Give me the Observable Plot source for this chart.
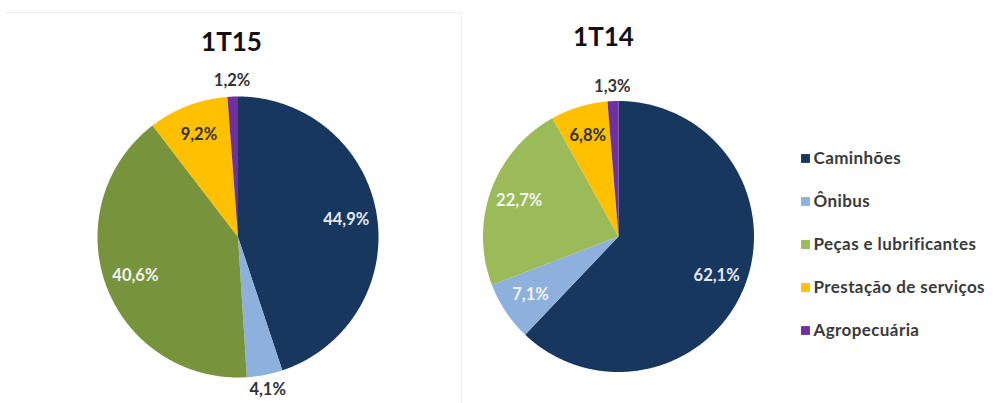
<!DOCTYPE html>
<html>
<head>
<meta charset="utf-8">
<script src="https://cdn.jsdelivr.net/npm/d3@7"></script>
<script src="https://cdn.jsdelivr.net/npm/@observablehq/plot@0.6"></script>
<style>
  html, body { margin: 0; padding: 0; background: #ffffff; }
  #chart svg { display: block; }
  .legend-text text { letter-spacing: 0.4px; }
</style>
</head>
<body>
<div id="chart"></div>
<script>
// ---- Data ----
const categories = ["Caminhões", "Ônibus", "Peças e lubrificantes", "Prestação de serviços", "Agropecuária"];
const titles = ["1T15", "1T14"];
const values1T15 = [44.9, 4.1, 40.6, 9.2, 1.2];
const values1T14 = [62.1, 7.1, 22.7, 6.8, 1.3];
const colors1T15 = ["#18375F", "#8EB0DD", "#77933C", "#FFC000", "#7030A0"];
const colors1T14 = ["#18375F", "#8EB0DD", "#9BBB59", "#FFC000", "#7030A0"];
const legendColors = ["#18375F", "#8EB0DD", "#9BBB59", "#FFC000", "#7030A0"];
const labelColors1T15 = ["#E4EAF4", "#333333", "#F2F2F2", "#333333", "#333333"];
const labelColors1T14 = ["#E4EAF4", "#F2F2F2", "#F2F2F2", "#333333", "#333333"];

// ---- Layout (pixels) ----
const W = 994, H = 403;
const pies = [
  {title: titles[0], values: values1T15, colors: colors1T15, labelColors: labelColors1T15, cx: 237.5, cy: 236.5, r: 140.5, tx: 231, ty: 50},
  {title: titles[1], values: values1T14, colors: colors1T14, labelColors: labelColors1T14, cx: 618, cy: 236, r: 135.5, tx: 603, ty: 45}
];

const wedges = [];
const labels = [];
const titleRows = [];
pies.forEach((p, pi) => {
  const arcs = d3.pie().sort(null).value(d => d)(p.values);
  arcs.forEach((a, i) => {
    const key = pi + "-" + i;
    const steps = Math.max(4, Math.ceil((a.endAngle - a.startAngle) / 0.01));
    wedges.push({key, x: p.cx, y: p.cy, fill: p.colors[i]});
    for (let s = 0; s <= steps; s++) {
      const t = a.startAngle + (a.endAngle - a.startAngle) * s / steps;
      wedges.push({key, x: p.cx + p.r * Math.sin(t), y: p.cy - p.r * Math.cos(t), fill: p.colors[i]});
    }
    wedges.push({key, x: p.cx, y: p.cy, fill: p.colors[i]});
    const mid = (a.startAngle + a.endAngle) / 2;
    const outside = p.values[i] < 5;
    const k = outside ? 1.11 : 0.78;
    labels.push({
      x: p.cx + p.r * k * Math.sin(mid),
      y: p.cy - p.r * k * Math.cos(mid),
      text: d3.format(".1f")(p.values[i]).replace(".", ",") + "%",
      fill: p.labelColors[i]
    });
  });
  titleRows.push({x: p.tx, y: p.ty, text: p.title});
});

const legendRows = categories.map((c, i) => ({name: c, color: legendColors[i], y: 158 + i * 43}));

const plot = Plot.plot({
  width: W,
  height: H,
  margin: 0,
  x: {domain: [0, W], range: [0, W], axis: null},
  y: {domain: [0, H], range: [0, H], axis: null},
  style: {fontFamily: "Lato, 'Open Sans', sans-serif", background: "#ffffff"},
  marks: [
    // faint frame around the first panel
    Plot.ruleY([12], {x1: 6, x2: 461, stroke: "#ececec", strokeWidth: 1}),
    Plot.ruleX([461], {y1: 12, y2: H, stroke: "#f0f0f0", strokeWidth: 1}),
    Plot.line(wedges, {x: "x", y: "y", z: "key", fill: "fill", stroke: null, curve: "linear"}),
    Plot.text(labels, {x: "x", y: "y", text: "text", fill: "fill", fontSize: 16.5, fontWeight: "bold"}),
    Plot.text(titleRows, {x: "x", y: "y", text: "text", fill: "#111111", fontSize: 26, fontWeight: "bold", lineAnchor: "bottom"}),
    Plot.dot(legendRows, {x: 805, y: "y", fill: "color", symbol: "square", r: 5, stroke: null}),
    Plot.text(legendRows, {x: 813, y: "y", text: "name", fill: "#3a3a3a", fontSize: 17, fontWeight: "bold", textAnchor: "start", className: "legend-text"})
  ]
});
document.getElementById("chart").appendChild(plot);
</script>
</body>
</html>
